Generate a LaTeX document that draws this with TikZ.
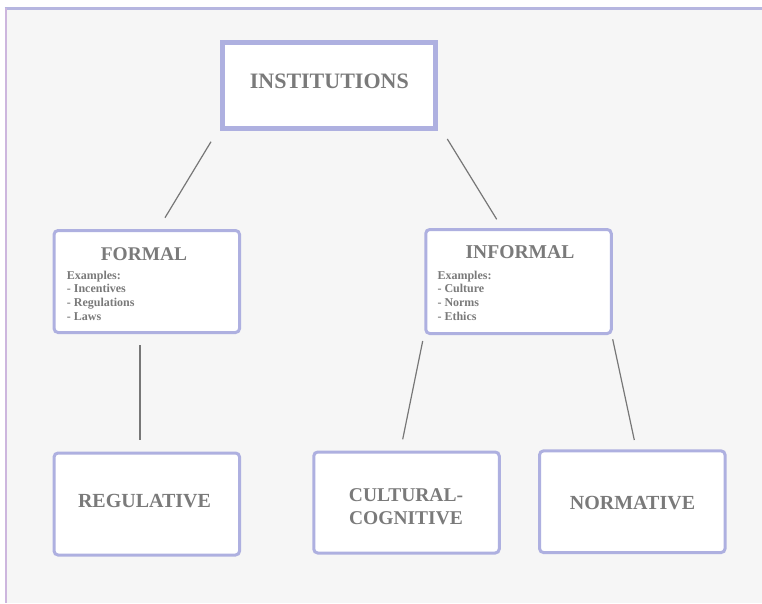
\documentclass[tikz,border=0pt]{standalone}
\usepackage{fontspec}
\setmainfont{Liberation Serif}
\definecolor{panel}{HTML}{F6F6F6}
\definecolor{frameblue}{HTML}{AEB0E0}
\definecolor{topedge}{HTML}{B6B6E0}
\definecolor{leftedge}{HTML}{CDB6DE}
\definecolor{inkgray}{HTML}{7A7A7A}
\definecolor{linkgray}{HTML}{777777}
\tikzset{
  mainbox/.style={draw=frameblue, fill=white, line width=5pt, inner sep=0pt},
  subbox/.style={draw=frameblue, fill=white, line width=3pt, rounded corners=4pt, inner sep=0pt,
    minimum width=185.5pt, minimum height=102pt},
  headtext/.style={text=inkgray, font=\bfseries, anchor=base, inner sep=0pt},
  listtext/.style={text=inkgray, font=\fontsize{12}{13.9}\selectfont\bfseries, anchor=north west,
    align=left, inner sep=0pt},
  link/.style={draw=linkgray, line width=1.2pt}
}
\begin{document}
\begin{tikzpicture}[x=1pt,y=-1pt]
\useasboundingbox (0,0) rectangle (762,603);
% page panel and its edges
\fill[panel] (6.5,9.5) rectangle (762,603);
\draw[topedge, line width=2.7pt] (4.7,8.7) -- (762,8.7);
\draw[leftedge, line width=2pt] (5.7,8) -- (5.7,603);

% boxes
\node[mainbox, minimum width=213pt, minimum height=86pt] (inst) at (329,85.5) {};
\node[subbox] (formal) at (146.8,281.5) {};
\node[subbox, minimum height=104pt] (informal) at (518.5,281.5) {};
\node[subbox] (regul) at (146.8,504) {};
\node[subbox, minimum height=101pt] (cultcog) at (406.5,502.5) {};
\node[subbox, minimum height=101.7pt] (normat) at (632.3,501.7) {};

% box texts
\node[headtext, font=\fontsize{22}{26}\selectfont\bfseries] (instlbl) at (329.3,88.3) {INSTITUTIONS};
\node[headtext, font=\fontsize{19.4}{23}\selectfont\bfseries] (formallbl) at (144,260) {FORMAL};
\node[headtext, font=\fontsize{19.6}{23}\selectfont\bfseries] (informallbl) at (520,258.3) {INFORMAL};
\node[listtext] (formallist) at (66.7,270.5) {Examples:\\- Incentives\\- Regulations\\- Laws};
\node[listtext] (informallist) at (437.3,270.5) {Examples:\\- Culture\\- Norms\\- Ethics};
\node[headtext, font=\fontsize{20}{24}\selectfont\bfseries] (regullbl) at (144.5,507) {REGULATIVE};
\node[headtext, font=\fontsize{19.5}{23}\selectfont\bfseries] (cultlbl1) at (406,501) {CULTURAL-};
\node[headtext, font=\fontsize{19.5}{23}\selectfont\bfseries] (cultlbl2) at (406,524) {COGNITIVE};
\node[headtext, font=\fontsize{20}{24}\selectfont\bfseries] (normlbl) at (632.5,509) {NORMATIVE};

% connector ends
\coordinate (a1) at (211,141.7);   \coordinate (a2) at (165,217.7);
\coordinate (b1) at (447.3,139);   \coordinate (b2) at (496.7,219.3);
\coordinate (c1) at (140,345);     \coordinate (c2) at (140,440);
\coordinate (d1) at (422.7,341);   \coordinate (d2) at (402.7,439.3);
\coordinate (e1) at (612.7,339.3); \coordinate (e2) at (634.3,440);

% connectors
\draw[link] (a1) -- (a2);
\draw[link] (b1) -- (b2);
\draw[link] (c1) -- (c2);
\draw[link] (d1) -- (d2);
\draw[link] (e1) -- (e2);
\end{tikzpicture}
\end{document}
